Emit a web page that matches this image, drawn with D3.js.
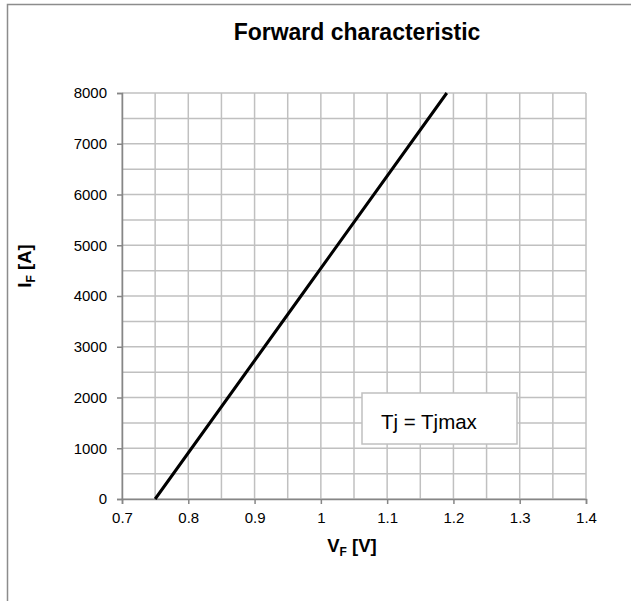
<!DOCTYPE html>
<html lang="en">
<head>
  <meta charset="UTF-8">
  <title>Forward characteristic</title>
  <script src="https://cdn.jsdelivr.net/npm/d3@7.9.0/dist/d3.min.js"></script>
  <style>
    body { margin: 0; background: #fff; }
    text { font-family: "Liberation Sans", Arial, sans-serif; }
  </style>
</head>
<body>
  <div id="chart"></div>
  <script>
    // data (Tj = Tjmax)
    const vf = [0.75, 0.97, 1.19];
    const iF = [0, 4000, 8000];
    const xTicks = [0.7, 0.8, 0.9, 1.0, 1.1, 1.2, 1.3, 1.4];
    const yTicks = [0, 1000, 2000, 3000, 4000, 5000, 6000, 7000, 8000];
    const xGrid = d3.range(0.7, 1.4001, 0.05);
    const yGrid = d3.range(0, 8001, 500);

    const width = 631, height = 601;
    const svg = d3.select("#chart").append("svg")
      .attr("width", width).attr("height", height);

    // outer frame
    svg.append("rect")
      .attr("x", 7.5).attr("y", 4.5)
      .attr("width", 640).attr("height", 620)
      .attr("fill", "none").attr("stroke", "#8c8c8c").attr("stroke-width", 1.5);

    const x = d3.scaleLinear().domain([0.7, 1.4]).range([122, 586]);
    const y = d3.scaleLinear().domain([0, 8000]).range([499, 93]);

    // grid
    const grid = svg.append("g").attr("stroke", "#c0c0c0").attr("stroke-width", 1.5);
    grid.selectAll("line.v").data(xGrid).enter().append("line")
      .attr("x1", d => x(d)).attr("x2", d => x(d))
      .attr("y1", y(0)).attr("y2", y(8000));
    grid.selectAll("line.h").data(yGrid).enter().append("line")
      .attr("x1", x(0.7)).attr("x2", x(1.4))
      .attr("y1", d => y(d)).attr("y2", d => y(d));

    // axes
    const xAxis = svg.append("g")
      .attr("transform", `translate(0,${y(0)})`)
      .call(d3.axisBottom(x).tickValues(xTicks).tickSize(5).tickPadding(8)
        .tickFormat(d => d === 1 ? "1" : d3.format(".1f")(d)));
    const yAxis = svg.append("g")
      .attr("transform", `translate(${x(0.7)},0)`)
      .call(d3.axisLeft(y).tickValues(yTicks).tickSize(5).tickPadding(10)
        .tickFormat(d3.format("d")));
    [xAxis, yAxis].forEach(g => {
      g.select(".domain").attr("stroke", "#868686").attr("stroke-width", 1.5);
      g.selectAll(".tick line").attr("stroke", "#868686").attr("stroke-width", 1.5);
      g.selectAll(".tick text")
        .attr("fill", "#000").attr("font-size", 15)
        .attr("font-family", "Liberation Sans, Arial, sans-serif");
    });

    // curve
    const pts = vf.map((v, i) => [v, iF[i]]);
    svg.append("path")
      .datum(pts)
      .attr("fill", "none")
      .attr("stroke", "#000")
      .attr("stroke-width", 3)
      .attr("d", d3.line().x(d => x(d[0])).y(d => y(d[1])));

    // legend box
    svg.append("rect")
      .attr("x", 362).attr("y", 393).attr("width", 155).attr("height", 51)
      .attr("fill", "#fff").attr("stroke", "#c0c0c0").attr("stroke-width", 1.5);
    svg.append("text")
      .attr("x", 381).attr("y", 429)
      .attr("font-size", 20.5)
      .text("Tj = Tjmax");

    // title
    svg.append("text")
      .attr("x", 357).attr("y", 40)
      .attr("text-anchor", "middle")
      .attr("font-size", 23).attr("font-weight", "bold")
      .text("Forward characteristic");

    // axis titles
    const xt = svg.append("text")
      .attr("x", 352).attr("y", 552)
      .attr("text-anchor", "middle")
      .attr("font-size", 18.5).attr("font-weight", "bold");
    xt.append("tspan").text("V");
    xt.append("tspan").attr("font-size", 12).attr("dy", 4).text("F");
    xt.append("tspan").attr("dy", -4).text(" [V]");

    const yt = svg.append("text")
      .attr("transform", `translate(31,266) rotate(-90)`)
      .attr("text-anchor", "middle")
      .attr("font-size", 18.5).attr("font-weight", "bold");
    yt.append("tspan").text("I");
    yt.append("tspan").attr("font-size", 12).attr("dy", 4).text("F");
    yt.append("tspan").attr("dy", -4).text(" [A]");
  </script>
</body>
</html>
